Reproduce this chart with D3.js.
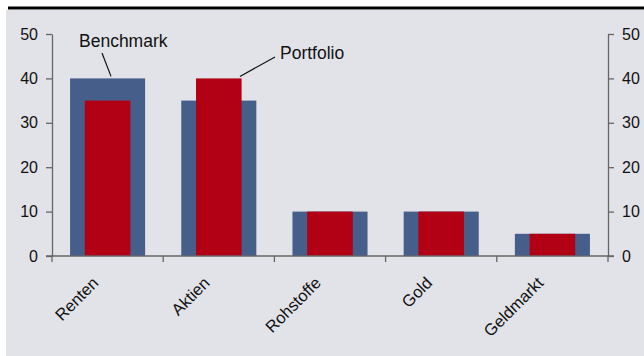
<!DOCTYPE html>
<html><head><meta charset="utf-8">
<script src="https://cdn.jsdelivr.net/npm/d3@7"></script>
<style>body{margin:0;background:#fff}svg{display:block}text{font-family:"Liberation Sans",Arial,sans-serif}</style>
</head><body>
<svg id="c" width="644" height="356"></svg>
<script>
const categories = ["Renten", "Aktien", "Rohstoffe", "Gold", "Geldmarkt"];
const benchmark = [40, 35, 10, 10, 5];
const portfolio = [35, 40, 10, 10, 5];
const yTicks = [0, 10, 20, 30, 40, 50];
const seriesNames = ["Benchmark", "Portfolio"];

const svg = d3.select("#c");
svg.append("rect").attr("x", 6).attr("y", 10).attr("width", 638).attr("height", 346).attr("fill", "#e2e3e8");
svg.append("rect").attr("x", 8).attr("y", 6.5).attr("width", 636).attr("height", 3).attr("fill", "#000");

const x = d3.scaleBand().domain(categories).range([52, 608]).padding(0);
const y = d3.scaleLinear().domain([0, 50]).range([256, 34]);
const bw = x.bandwidth();
const wB = bw * 0.675, wP = bw * 0.41;

svg.append("g").selectAll("rect").data(categories).join("rect")
  .attr("x", (d) => x(d) + bw / 2 - wB / 2).attr("width", wB)
  .attr("y", (d, i) => y(benchmark[i])).attr("height", (d, i) => y(0) - y(benchmark[i]))
  .attr("fill", "#465e8a");
svg.append("g").selectAll("rect").data(categories).join("rect")
  .attr("x", (d) => x(d) + bw / 2 - wP / 2).attr("width", wP)
  .attr("y", (d, i) => y(portfolio[i])).attr("height", (d, i) => y(0) - y(portfolio[i]))
  .attr("fill", "#b20014");

const axColor = "#666";
const left = svg.append("g").attr("transform", "translate(52,0)")
  .call(d3.axisLeft(y).tickValues(yTicks).tickSize(6).tickSizeOuter(0).tickPadding(8));
const right = svg.append("g").attr("transform", "translate(608,0)")
  .call(d3.axisRight(y).tickValues(yTicks).tickSize(6).tickSizeOuter(0).tickPadding(8));
[left, right].forEach(g => {
  g.selectAll("path,line").attr("stroke", axColor).attr("stroke-width", 1.3);
  g.selectAll("text").attr("font-size", 16).attr("fill", "#111").style("font-family", '"Liberation Sans",Arial,sans-serif');
});

// x axis
const xa = svg.append("g");
const bounds = categories.map(c => x(c)).concat([x.range()[1]]);
xa.append("line").attr("x1", 46).attr("x2", 614).attr("y1", y(0)).attr("y2", y(0)).attr("stroke", axColor).attr("stroke-width", 1.3);
xa.selectAll("line.t").data(bounds).join("line").attr("class", "t")
  .attr("x1", d => d).attr("x2", d => d).attr("y1", y(0)).attr("y2", y(0) + 6)
  .attr("stroke", axColor).attr("stroke-width", 1.3);
xa.selectAll("text").data(categories).join("text")
  .attr("transform", d => `translate(${x(d) + bw / 2 - 8},${y(0) + 28}) rotate(-45)`)
  .attr("text-anchor", "end").attr("font-size", 16.5).attr("fill", "#111").text(d => d);

// callouts
const ann = svg.append("g");
ann.append("text").attr("x", 79).attr("y", 47).attr("font-size", 17.5).attr("fill", "#111").text(seriesNames[0]);
ann.append("line").attr("x1", 102).attr("y1", 53).attr("x2", 111).attr("y2", y(benchmark[0]) - 2).attr("stroke", "#111").attr("stroke-width", 1.2);
ann.append("text").attr("x", 280).attr("y", 59).attr("font-size", 17.5).attr("fill", "#111").text(seriesNames[1]);
ann.append("line").attr("x1", 275).attr("y1", 57).attr("x2", 240).attr("y2", y(portfolio[1]) - 2).attr("stroke", "#111").attr("stroke-width", 1.2);
</script>
</body></html>
